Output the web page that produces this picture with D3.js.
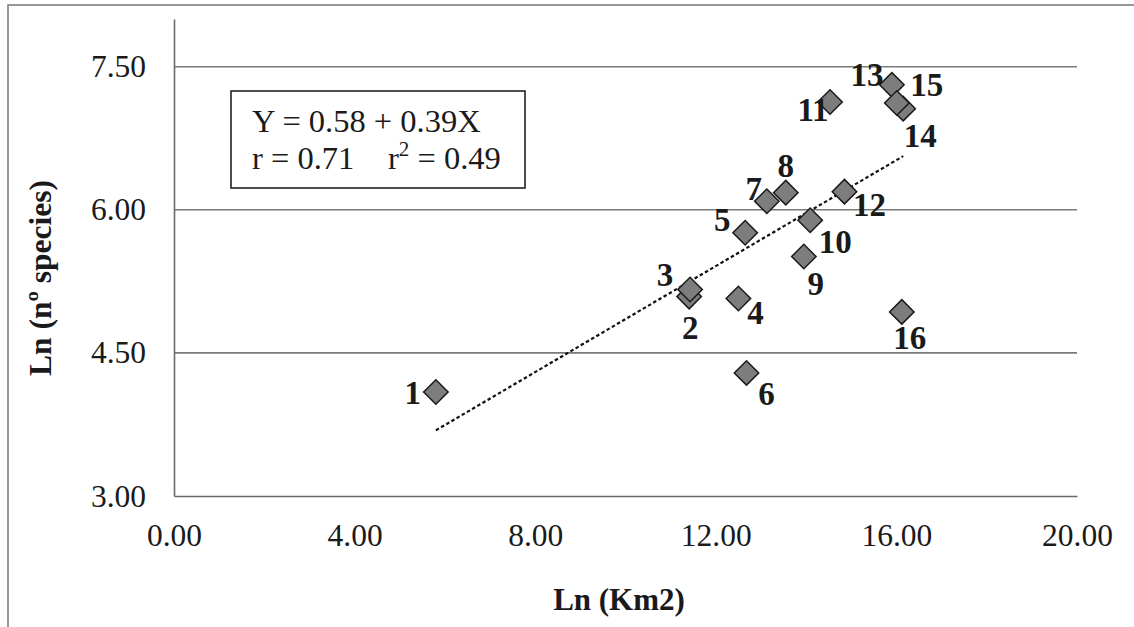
<!DOCTYPE html>
<html><head><meta charset="utf-8">
<script src="https://cdn.jsdelivr.net/npm/d3@7"></script>
<style>
body{margin:0;background:#fff;}
text{font-family:"Liberation Serif","Times New Roman",serif;fill:#1a1a1a;}
</style>
</head><body><svg id="c" width="1134" height="627"></svg>
<script>
// ---- data ----
const siteIds   = [1, 2, 3, 4, 5, 6, 7, 8, 9, 10, 11, 12, 13, 14, 15, 16];
const lnArea    = [5.80, 11.41, 11.43, 12.50, 12.65, 12.68, 13.13, 13.55, 13.95, 14.09, 14.53, 14.85, 15.90, 16.15, 16.01, 16.12];
const lnSpecies = [4.09, 5.09, 5.165, 5.07, 5.76, 4.29, 6.09, 6.18, 5.51, 5.89, 7.13, 6.19, 7.31, 7.06, 7.12, 4.93];
const xTickValues = [0, 4, 8, 12, 16, 20];
const yTickValues = [3, 4.5, 6, 7.5];
const xTitle = "Ln (Km2)";
const yTitle = "Ln (nº species)";
const eqLine1 = "Y = 0.58 + 0.39X";
const eqR = "r = 0.71";
const eqR2 = "0.49";

// label offsets (styling, px)
const labelOffsets = [[-23,1],[1,31],[-25,-14],[17,14],[-23,-13],[20,21],[-13,-12],[0,-27],[12,27],[25,22],[-17,8],[25,13],[-25,-10],[17,27],[30,-18],[8,26]];

const svg = d3.select("#c");
const L = 174, R = 1077, T = 19, B = 496;
const x = d3.scaleLinear().domain([0, 20]).range([L, R]);
const y = d3.scaleLinear().domain([3, 8]).range([B, T]);

// outer frame (top & left)
svg.append("path").attr("d", "M8,627V5H1134").attr("fill","none").attr("stroke","#777").attr("stroke-width",1.5);

// gridlines
svg.append("g").selectAll("line").data(yTickValues.filter(v => v > 3)).join("line")
  .attr("x1", L).attr("x2", R).attr("y1", d => y(d)).attr("y2", d => y(d))
  .attr("stroke", "#7a7a7a").attr("stroke-width", 1.6);

// axes
const yAxis = svg.append("g").attr("transform", `translate(${L},0)`)
  .call(d3.axisLeft(y).tickValues(yTickValues).tickFormat(d3.format(".2f")).tickSize(0).tickPadding(28));
yAxis.select(".domain").attr("stroke", "#6a6a6a").attr("stroke-width", 1.6);
yAxis.selectAll("text").attr("font-size", 31.5).attr("fill", "#1a1a1a")
  .style("font-family", "'Liberation Serif','Times New Roman',serif");

const xAxis = svg.append("g").attr("transform", `translate(0,${B})`)
  .call(d3.axisBottom(x).tickValues(xTickValues).tickFormat(d3.format(".2f")).tickSize(0).tickPadding(28));
xAxis.select(".domain").attr("stroke", "#6a6a6a").attr("stroke-width", 1.6);
xAxis.selectAll("text").attr("font-size", 31.5).attr("fill", "#1a1a1a")
  .style("font-family", "'Liberation Serif','Times New Roman',serif");

// regression (least squares)
const pts = siteIds.map((id, i) => ({id, x: lnArea[i], y: lnSpecies[i], off: labelOffsets[i]}));
const mx = d3.mean(lnArea), my = d3.mean(lnSpecies);
const slope = d3.sum(pts, p => (p.x - mx) * (p.y - my)) / d3.sum(pts, p => (p.x - mx) ** 2);
const icpt = my - slope * mx;
const [x0, x1] = d3.extent(lnArea);
svg.append("line")
  .attr("x1", x(x0)).attr("y1", y(icpt + slope * x0))
  .attr("x2", x(x1)).attr("y2", y(icpt + slope * x1))
  .attr("stroke", "#111").attr("stroke-width", 2.2).attr("stroke-dasharray", "3.5,2.5");

// points
const sym = d3.symbol().type(d3.symbolSquare).size(300);
svg.append("g").selectAll("path").data(pts).join("path")
  .attr("d", sym)
  .attr("transform", d => `translate(${x(d.x)},${y(d.y)}) rotate(45)`)
  .attr("fill", "#7d7d7d").attr("stroke", "#1a1a1a").attr("stroke-width", 1.5);

// point labels
svg.append("g").selectAll("text").data(pts).join("text")
  .attr("x", d => x(d.x) + d.off[0]).attr("y", d => y(d.y) + d.off[1])
  .attr("text-anchor", "middle").attr("dominant-baseline", "central")
  .attr("font-size", 33).attr("font-weight", "bold")
  .text(d => d.id);

// equation box
svg.append("rect").attr("x", 231).attr("y", 91).attr("width", 294).attr("height", 97)
  .attr("fill", "#fff").attr("stroke", "#222").attr("stroke-width", 1.6);
svg.append("text").attr("x", 252).attr("y", 132).attr("font-size", 32.5).text(eqLine1);
const t2 = svg.append("text").attr("x", 252).attr("y", 169).attr("font-size", 32.5);
t2.append("tspan").text(eqR);
t2.append("tspan").attr("x", 388).text("r");
t2.append("tspan").attr("dy", -13).attr("font-size", 21).text("2");
t2.append("tspan").attr("dy", 13).text(" = " + eqR2);

// axis titles
svg.append("text").attr("x", 619).attr("y", 610).attr("text-anchor", "middle")
  .attr("font-size", 31).attr("font-weight", "bold").text(xTitle);
svg.append("text").attr("transform", "translate(51,278) rotate(-90)").attr("text-anchor", "middle")
  .attr("font-size", 31.5).attr("font-weight", "bold").text(yTitle);
</script>
</body></html>
